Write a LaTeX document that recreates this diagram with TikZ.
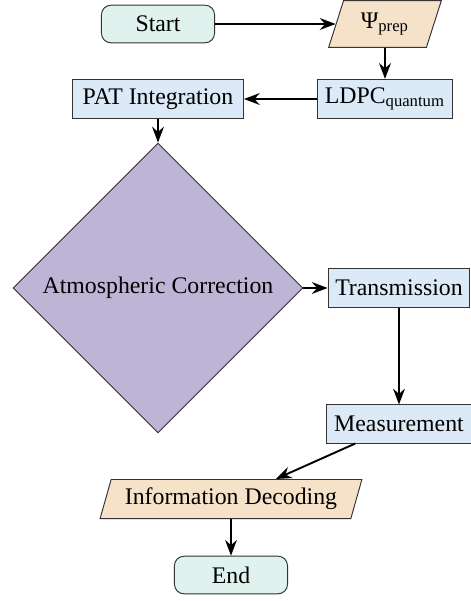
\documentclass[tikz,border=0pt]{standalone}
\usepackage{fontspec}
\setmainfont{Liberation Serif}
\usetikzlibrary{shapes.geometric,arrows.meta}
\definecolor{termfill}{RGB}{223,242,238}
\definecolor{iofill}{RGB}{246,226,200}
\definecolor{procfill}{RGB}{219,234,246}
\definecolor{decfill}{RGB}{190,181,214}
\begin{document}
\begin{tikzpicture}[x=0.42pt,y=-0.42pt,
    termbox/.style={rectangle,rounded corners=4pt,draw=black!80,fill=termfill,minimum width=47.5pt,minimum height=15.8pt},
    iobox/.style={trapezium,trapezium left angle=72,trapezium right angle=108,trapezium stretches=true,draw=black!80,fill=iofill,inner sep=2pt},
    procbox/.style={rectangle,draw=black!80,fill=procfill,minimum height=16.5pt,inner sep=3pt},
    decbox/.style={diamond,draw=black!80,fill=decfill,minimum width=121.8pt,minimum height=121.8pt,inner sep=0pt},
    flow/.style={thick,-Stealth}]
    \useasboundingbox (0,0) rectangle (471,601);
    %% Nodes
    \node[termbox] (start) at (158,24) {Start};
    \node[iobox,minimum width=47.5pt,minimum height=19.7pt] (prep) at (385,24) {Ψ\textsubscript{prep}};
    \node[procbox,minimum width=57.1pt] (ldpc) at (385,99) {LDPC\textsubscript{quantum}};
    \node[procbox,minimum width=71.8pt] (pat) at (158,99) {PAT Integration};
    \node[decbox] (atmo) at (158,288) {Atmospheric Correction};
    \node[procbox,minimum width=58.8pt,minimum height=16pt] (trans) at (399,288) {Transmission};
    \node[procbox,minimum width=60.5pt,minimum height=16pt] (meas) at (399,424) {Measurement};
    \node[iobox,minimum width=110pt,minimum height=16.4pt] (info) at (231,499) {Information Decoding};
    \node[termbox] (end) at (231,575) {End};
    %% Flow
    \draw[flow] (start) -- (prep);
    \draw[flow] (prep) -- (ldpc);
    \draw[flow] (ldpc) -- (pat);
    \draw[flow] (pat) -- (atmo);
    \draw[flow] (atmo) -- (trans);
    \draw[flow] (trans) -- (meas);
    \draw[flow] (meas) -- (info);
    \draw[flow] (info) -- (end);
\end{tikzpicture}
\end{document}
